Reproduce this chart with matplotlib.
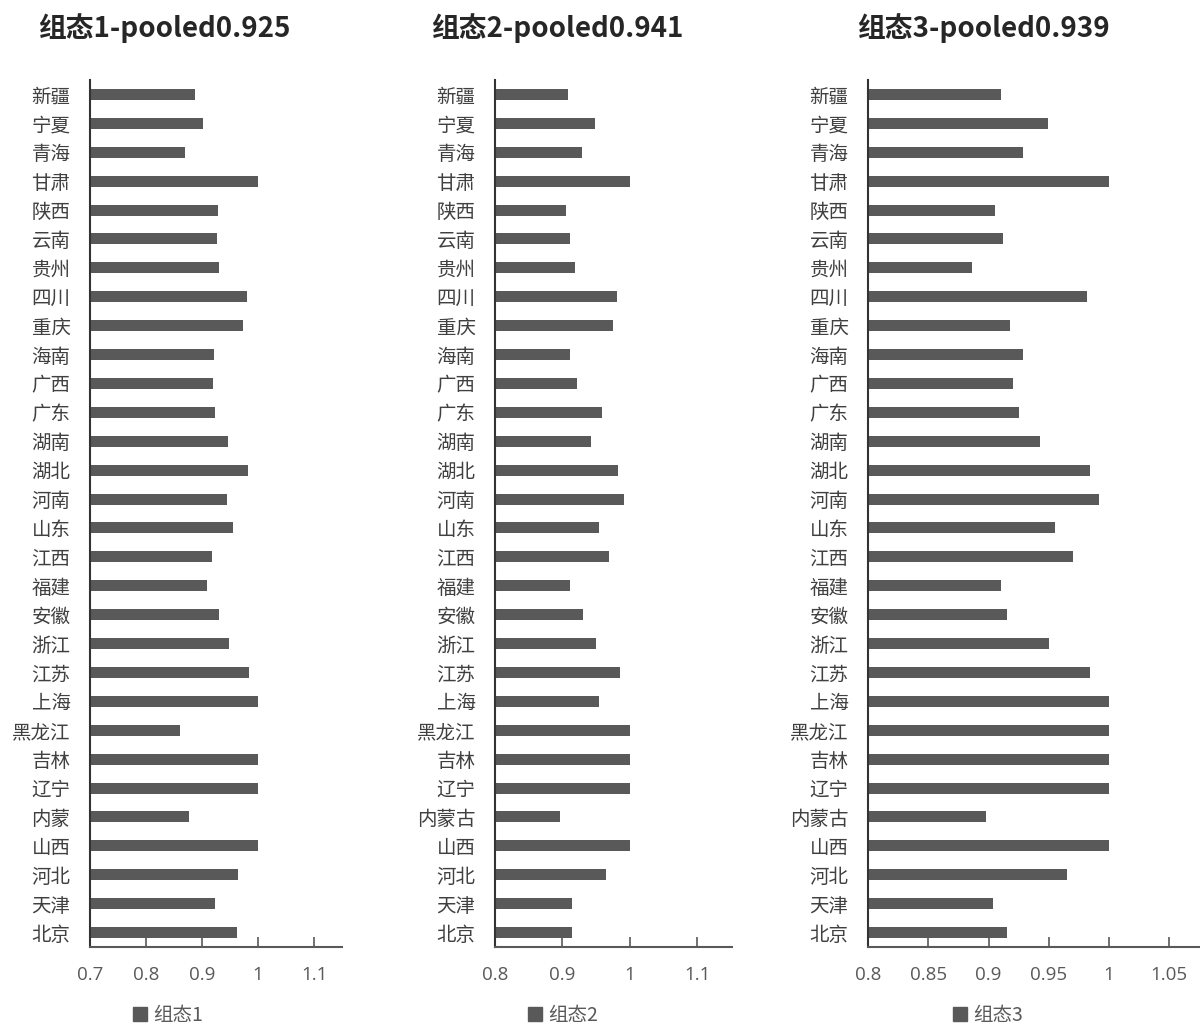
import matplotlib.pyplot as plt
from matplotlib.patches import Patch

plt.rcParams["font.family"] = ["Noto Sans CJK SC", "DejaVu Sans"]

# provinces top to bottom as drawn
provinces = [
    "新疆", "宁夏", "青海", "甘肃", "陕西", "云南", "贵州", "四川", "重庆", "海南",
    "广西", "广东", "湖南", "湖北", "河南", "山东", "江西", "福建", "安徽", "浙江",
    "江苏", "上海", "黑龙江", "吉林", "辽宁", "内蒙古", "山西", "河北", "天津", "北京",
]
labels_1 = [p if p != "内蒙古" else "内蒙" for p in provinces]

state1 = [0.888, 0.902, 0.869, 1.0, 0.929, 0.927, 0.930, 0.980, 0.974, 0.921,
          0.919, 0.924, 0.946, 0.982, 0.944, 0.955, 0.918, 0.909, 0.930, 0.949,
          0.984, 1.0, 0.861, 1.0, 1.0, 0.877, 1.0, 0.965, 0.924, 0.963]
state2 = [0.909, 0.948, 0.929, 1.0, 0.905, 0.911, 0.919, 0.981, 0.975, 0.911,
          0.922, 0.959, 0.942, 0.983, 0.991, 0.954, 0.970, 0.911, 0.930, 0.950,
          0.985, 0.954, 1.0, 1.0, 1.0, 0.897, 1.0, 0.965, 0.914, 0.914]
state3 = [0.910, 0.949, 0.929, 1.0, 0.905, 0.912, 0.886, 0.982, 0.918, 0.929,
          0.920, 0.925, 0.943, 0.984, 0.992, 0.955, 0.970, 0.910, 0.915, 0.950,
          0.984, 1.0, 1.0, 1.0, 1.0, 0.898, 1.0, 0.965, 0.904, 0.915]

titles = ["组态1-pooled0.925", "组态2-pooled0.941", "组态3-pooled0.939"]
legend_names = ["组态1", "组态2", "组态3"]
xticks_1 = [0.7, 0.8, 0.9, 1.0, 1.1]
xticks_2 = [0.8, 0.9, 1.0, 1.1]
xticks_3 = [0.8, 0.85, 0.9, 0.95, 1.0, 1.05]

BAR = "#595959"
W, H = 1200, 1026

fig = plt.figure(figsize=(W / 100, H / 100), dpi=100)

panels = [
    # (left px, right px, xlim, xticks, labels, values, title x center, legend x)
    (90, 342, (0.7, 1.15), xticks_1, labels_1, state1, 164, 168),
    (495, 732, (0.8, 1.152), xticks_2, provinces, state2, 557, 563),
    (868, 1200, (0.8, 1.0755), xticks_3, provinces, state3, 983, 988),
]
top_px, bottom_px = 80, 947

for i, (left, right, xlim, ticks, labels, values, title_x, legend_x) in enumerate(panels):
    ax = fig.add_axes([left / W, 1 - bottom_px / H, (right - left) / W, (bottom_px - top_px) / H])
    ypos = list(range(len(labels)))
    ax.barh(ypos, [v - xlim[0] for v in values], left=xlim[0], height=0.38, color=BAR)
    ax.set_ylim(len(labels) - 0.5, -0.5)
    ax.set_xlim(*xlim)
    ax.set_yticks(ypos)
    ax.set_yticklabels(labels, fontsize=14, color="#404040")
    ax.tick_params(axis="y", length=0, pad=14)
    ax.set_xticks(ticks)
    ax.set_xticklabels([f"{t:g}" for t in ticks], fontsize=13.5, color="#595959",
                       family=["Open Sans", "DejaVu Sans"])
    ax.tick_params(axis="x", direction="in", length=7, width=1.2, color="#595959", pad=14)
    for side in ("top", "right"):
        ax.spines[side].set_visible(False)
    ax.spines["left"].set_color("#333333")
    ax.spines["left"].set_linewidth(1.5)
    ax.spines["bottom"].set_color("#595959")
    ax.spines["bottom"].set_linewidth(1.5)

    fig.text(title_x / W, 1 - 28 / H, titles[i],
             ha="center", va="center", fontsize=20, fontweight="bold", color="#262626")

    ax.legend(handles=[Patch(color=BAR, label=legend_names[i])],
              loc="center", bbox_to_anchor=(legend_x / W, 1 - 1015 / H),
              bbox_transform=fig.transFigure, frameon=False, fontsize=14,
              handlelength=0.7, handleheight=0.7, handletextpad=0.3,
              labelcolor="#595959")

fig.savefig("out.png", dpi=100, facecolor="white")
